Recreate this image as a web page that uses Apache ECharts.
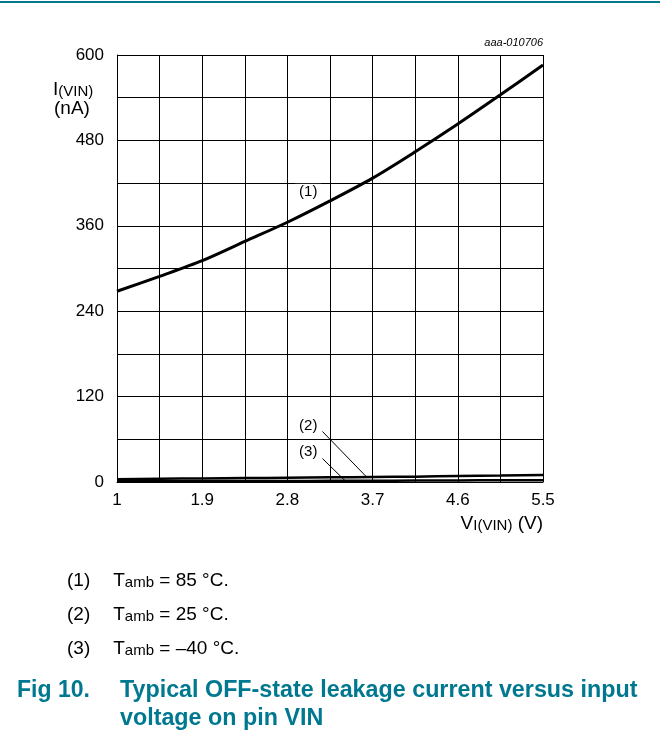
<!DOCTYPE html>
<html><head><meta charset="utf-8">
<script src="https://cdn.jsdelivr.net/npm/echarts@6/dist/echarts.min.js"></script>
<style>html,body{margin:0;padding:0;background:#fff}#c{width:660px;height:739px}</style>
</head><body><div id="c"></div>
<script>
// Data
const voltages   = [1, 1.45, 1.9, 2.35, 2.8, 3.25, 3.7, 4.15, 4.6, 5.05, 5.5];
const current85  = [268, 289, 311, 338, 365, 395, 427, 464, 503, 544, 586];
const current25  = [4, 4.5, 5, 5.5, 6, 6.5, 7, 7.5, 8.5, 9, 10];
const currentM40 = [1, 1, 1.2, 1.3, 1.5, 1.6, 1.8, 2, 2.2, 2.4, 2.6];
const xGridValues  = [1, 1.45, 1.9, 2.35, 2.8, 3.25, 3.7, 4.15, 4.6, 5.05, 5.5];
const xLabelValues = [1, 1.9, 2.8, 3.7, 4.6, 5.5];
const yLabelValues = [0, 120, 240, 360, 480, 600];
const curveLabels  = ['(1)', '(2)', '(3)'];
const legendTexts  = ['= 85 \u00B0C.', '= 25 \u00B0C.', '= \u201340 \u00B0C.'];

const FONT = '"Liberation Sans", Arial, sans-serif';
const TEAL = '#00788f';
const pair = (xs, ys) => xs.map((x, i) => [x, ys[i]]);

const chart = echarts.init(document.getElementById('c'), null, {renderer: 'canvas'});

function labelPoint(coord, text) {
  return {
    coord: coord, symbol: 'rect', symbolSize: [26, 17],
    itemStyle: {color: '#fff'},
    label: {show: true, position: 'inside', formatter: text, color: '#000', fontSize: 15, fontFamily: FONT}
  };
}
const mainRich = (size, sub) => ({
  a: {fontSize: size, fontFamily: FONT, lineHeight: 24, verticalAlign: 'bottom', fill: '#000'},
  s: {fontSize: sub, fontFamily: FONT, lineHeight: 9, verticalAlign: 'bottom', fill: '#000'}
});

const option = {
  animation: false,
  backgroundColor: '#fff',
  grid: {left: 117, right: 117, top: 55, bottom: 257, show: false},
  xAxis: {
    type: 'value', min: 1, max: 5.5,
    axisLine: {show: true, onZero: false, lineStyle: {color: '#000', width: 1}},
    axisTick: {show: false, customValues: xGridValues},
    splitLine: {show: true, lineStyle: {color: '#000', width: 1}},
    axisLabel: {customValues: xLabelValues, color: '#000', fontSize: 17, fontFamily: FONT, margin: 10,
      formatter: v => String(+v.toFixed(2))}
  },
  yAxis: {
    type: 'value', min: 0, max: 600, interval: 60,
    axisLine: {show: true, lineStyle: {color: '#000', width: 1}},
    axisTick: {show: false},
    splitLine: {show: true, lineStyle: {color: '#000', width: 1}},
    axisLabel: {customValues: yLabelValues, color: '#000', fontSize: 17, fontFamily: FONT, margin: 13}
  },
  series: [
    {
      type: 'line', data: pair(voltages, current85), smooth: 0.3, showSymbol: false,
      lineStyle: {color: '#000', width: 3}, z: 5,
      markPoint: {silent: true, data: [labelPoint([3.02, 407], curveLabels[0])]}
    },
    {
      type: 'line', data: pair(voltages, current25), smooth: true, showSymbol: false,
      lineStyle: {color: '#000', width: 2.5}, z: 5,
      markPoint: {silent: true, data: [labelPoint([3.02, 79], curveLabels[1])]},
      markLine: {silent: true, symbol: 'none', label: {show: false},
        lineStyle: {color: '#000', width: 1, type: 'solid'},
        data: [[{coord: [3.17, 71]}, {coord: [3.64, 6.6]}]]}
    },
    {
      type: 'line', data: pair(voltages, currentM40), smooth: true, showSymbol: false,
      lineStyle: {color: '#000', width: 2.5}, z: 5,
      markPoint: {silent: true, data: [labelPoint([3.02, 43], curveLabels[2])]},
      markLine: {silent: true, symbol: 'none', label: {show: false},
        lineStyle: {color: '#000', width: 1, type: 'solid'},
        data: [[{coord: [3.17, 33]}, {coord: [3.41, 1.8]}]]}
    }
  ],
  graphic: [
    {type: 'rect', shape: {x: 0, y: 1, width: 660, height: 2}, style: {fill: TEAL}},
    {type: 'text', x: 543, y: 43, style: {text: 'aaa-010706', align: 'right', verticalAlign: 'middle',
      font: 'italic 11px ' + FONT, fill: '#000'}},
    {type: 'text', x: 53, y: 87, style: {
      text: '{a|I}{s|(VIN)}', verticalAlign: 'middle', align: 'left', rich: mainRich(19, 15)}},
    {type: 'text', x: 54, y: 109, style: {text: '(nA)', verticalAlign: 'middle', align: 'left',
      font: '19px ' + FONT, fill: '#000'}},
    {type: 'text', x: 543, y: 521, style: {
      text: '{a|V}{s|I(VIN)}{a| (V)}', verticalAlign: 'middle', align: 'right', rich: mainRich(19, 15)}},
    ...legendTexts.map((t, i) => ({
      type: 'text', x: 67, y: 578 + i * 34, style: {
        text: '{a|' + curveLabels[i] + '}{g| }{a|T}{s|amb}{a| ' + t + '}', verticalAlign: 'middle', align: 'left',
        rich: Object.assign(mainRich(19, 15), {g: {width: 23, fontSize: 19, lineHeight: 24}})}
    })),
    {type: 'text', x: 17, y: 691, style: {text: 'Fig 10.', verticalAlign: 'middle', align: 'left',
      font: 'bold 23px ' + FONT, fill: TEAL}},
    {type: 'text', x: 120, y: 691, style: {text: 'Typical OFF-state leakage current versus input', verticalAlign: 'middle', align: 'left',
      font: 'bold 23.3px ' + FONT, fill: TEAL}},
    {type: 'text', x: 120, y: 719, style: {text: 'voltage on pin VIN', verticalAlign: 'middle', align: 'left',
      font: 'bold 23.3px ' + FONT, fill: TEAL}}
  ]
};
chart.setOption(option);
</script>
</body></html>
